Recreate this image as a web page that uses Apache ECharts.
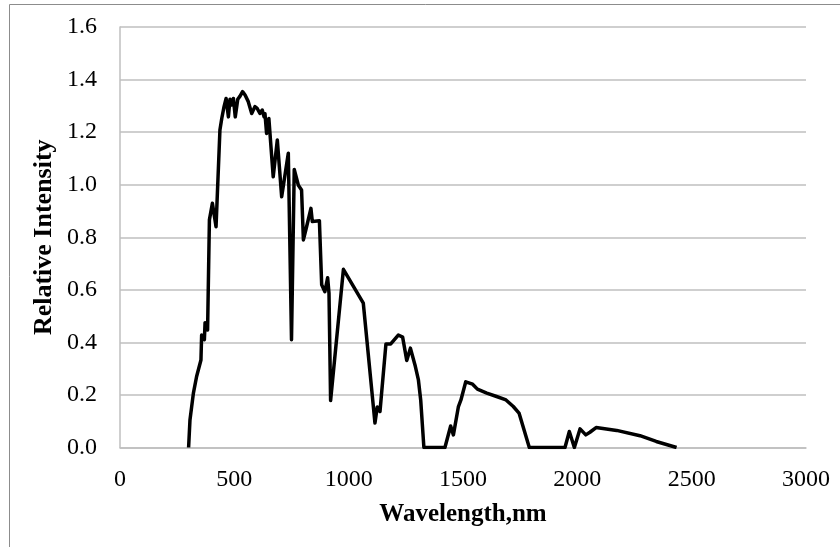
<!DOCTYPE html>
<html>
<head>
<meta charset="utf-8">
<script src="https://cdn.jsdelivr.net/npm/echarts@6/dist/echarts.min.js"></script>
<style>html,body{margin:0;padding:0;background:#fff}#c{width:840px;height:547px}</style>
</head>
<body>
<div id="c"></div>
<script>
var wavelengths = [300,306,321,335,354,357,369,372,383,391,404,420,437,445,455,464,474,481,488,496,504,515,525,536,547,561,576,590,600,612,622,630,634,641,651,659,670,688,707,736,750,762,780,794,802,816,835,841,872,882,896,908,914,921,977,1064,1115,1125,1137,1163,1184,1217,1236,1254,1270,1290,1305,1315,1329,1421,1446,1458,1480,1491,1512,1542,1563,1604,1647,1688,1720,1745,1790,1946,1965,1987,2012,2037,2055,2082,2172,2274,2345,2434];
var intensity = [0,0.105,0.207,0.27,0.333,0.428,0.41,0.475,0.447,0.866,0.929,0.84,1.208,1.252,1.297,1.328,1.258,1.325,1.303,1.328,1.258,1.325,1.337,1.354,1.341,1.316,1.271,1.297,1.29,1.271,1.284,1.258,1.27,1.195,1.252,1.246,1.03,1.17,0.954,1.12,0.41,1.058,0.998,0.98,0.79,0.84,0.91,0.86,0.863,0.619,0.593,0.646,0.587,0.179,0.678,0.549,0.093,0.154,0.137,0.394,0.394,0.428,0.42,0.331,0.378,0.314,0.257,0.181,0,0,0.082,0.048,0.156,0.181,0.25,0.241,0.222,0.207,0.194,0.181,0.156,0.131,0,0,0.061,0,0.071,0.048,0.058,0.076,0.065,0.045,0.023,0];
var xTitle = 'Wavelength,nm';
var yTitle = 'Relative Intensity';

var chart = echarts.init(document.getElementById('c'), null, {renderer:'canvas'});
var seriesData = wavelengths.map(function(w,i){return [w, intensity[i]];});
var font = '"Liberation Serif","Times New Roman",serif';
chart.setOption({
  animation:false,
  backgroundColor:'#fff',
  graphic:[{type:'rect',shape:{x:9.5,y:4.5,width:900,height:700},style:{fill:'none',stroke:'#8c8c8c',lineWidth:1},silent:true,z:-1}],
  grid:{left:120,right:34,top:27,bottom:99.5,containLabel:false},
  xAxis:{type:'value',min:0,max:3000,interval:500,
    axisLine:{show:true,lineStyle:{color:'#bfbfbf',width:1.5}},
    axisTick:{show:false},
    splitLine:{show:false},
    axisLabel:{color:'#000',fontFamily:font,fontSize:24,margin:20,formatter:function(v){return String(v);}},
    name:xTitle,nameLocation:'middle',nameGap:55,nameMoveOverlap:false,
    nameTextStyle:{color:'#000',fontFamily:font,fontSize:25,fontWeight:'bold',verticalAlign:'top'}
  },
  yAxis:{type:'value',min:0,max:1.6,interval:0.2,
    axisLine:{show:true,lineStyle:{color:'#bfbfbf',width:1.5}},
    axisTick:{show:false},
    splitLine:{show:true,lineStyle:{color:'#bfbfbf',width:1.5}},
    axisLabel:{color:'#000',fontFamily:font,fontSize:24,margin:23,formatter:function(v){return v.toFixed(1);}},
    name:yTitle,nameLocation:'middle',nameGap:63,nameRotate:90,nameMoveOverlap:false,
    nameTextStyle:{color:'#000',fontFamily:font,fontSize:26,fontWeight:'bold'}
  },
  series:[{type:'line',data:seriesData,showSymbol:false,symbol:'none',
    lineStyle:{color:'#000',width:3.5,join:'round'},z:3}]
});
</script>
</body>
</html>
